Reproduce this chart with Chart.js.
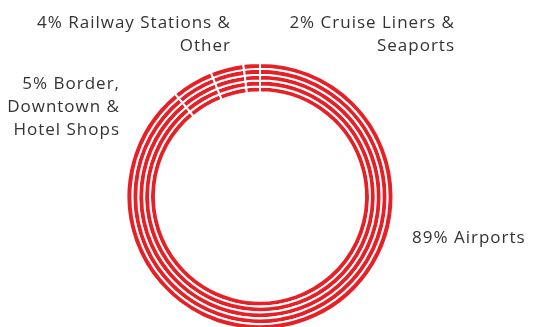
<!DOCTYPE html>
<html>
<head>
<meta charset="utf-8">
<script src="https://cdn.jsdelivr.net/npm/chart.js@4.4.1/dist/chart.umd.min.js"></script>
<style>
  html, body { margin: 0; padding: 0; background: #fff; overflow: hidden; }
  #wrap { position: relative; width: 534px; height: 327px; overflow: hidden; }
  #wrap canvas { position: absolute; left: 0; top: 0; }
  .lbl { position: absolute; font-family: "Open Sans", sans-serif; font-size: 17px; line-height: 23px; letter-spacing: 1px; color: #333; white-space: nowrap; }
</style>
</head>
<body>
<div id="wrap">
  <canvas id="shareChart" width="534" height="331"></canvas>
</div>
<script>
const categories = ["Airports", "Border, Downtown & Hotel Shops", "Railway Stations & Other", "Cruise Liners & Seaports"];
const shares = [89, 5, 4, 2];
const labelLines = [
  ["89% Airports"],
  ["5% Border,", "Downtown &", "Hotel Shops"],
  ["4% Railway Stations &", "Other"],
  ["2% Cruise Liners &", "Seaports"]
];
const ringCount = 5;
const red = "#e52127";

// label boxes (right aligned except airports); right offsets allow for trailing letter-spacing
const labelBoxes = [
  { left: 412, top: 225, align: "left" },
  { right: 414, top: 71, align: "right" },
  { right: 303, top: 10, align: "right" },
  { right: 79, top: 10, align: "right" }
];

const wrap = document.getElementById("wrap");
labelLines.forEach((lines, i) => {
  const d = document.createElement("div");
  d.className = "lbl";
  const b = labelBoxes[i];
  if (b.left !== undefined) d.style.left = b.left + "px";
  if (b.right !== undefined) d.style.right = b.right + "px";
  d.style.top = b.top + "px";
  d.style.textAlign = b.align;
  d.innerHTML = lines.map(s => s.replace(/&/g, "&amp;")).join("<br>");
  wrap.appendChild(d);
});

const datasets = [];
for (let r = 0; r < ringCount; r++) {
  datasets.push({
    label: "ring " + (r + 1),
    data: shares,
    backgroundColor: red,
    borderColor: "#ffffff",
    borderWidth: 2,
    borderAlign: "center"
  });
}

const ctx = document.getElementById("shareChart");
// eslint-disable-next-line no-unused-vars
const shareChart = new Chart(ctx, {
  type: "doughnut",
  data: {
    labels: categories,
    datasets: datasets
  },
  options: {
    responsive: false,
    animation: false,
    cutout: "78%",
    events: [],
    layout: { padding: { top: 62, bottom: 0, left: 0, right: 14 } },
    plugins: {
      legend: { display: false },
      tooltip: { enabled: false }
    }
  }
});
</script>
</body>
</html>
